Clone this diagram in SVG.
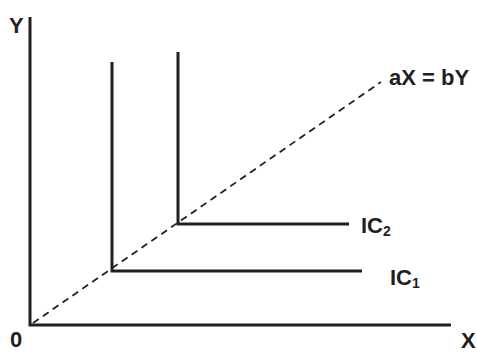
<svg xmlns="http://www.w3.org/2000/svg" width="477" height="352" viewBox="0 0 477 352">
<style>
.ax{stroke:#231f20;stroke-width:3;fill:none}
.ic{stroke:#231f20;stroke-width:3;fill:none}
.dash{stroke:#231f20;stroke-width:1.8;stroke-dasharray:7 5;fill:none}
text{font-family:"Liberation Sans",Arial,sans-serif;font-weight:bold;fill:#231f20;font-size:22px}
.sub{font-size:14px}
</style>
<rect width="477" height="352" fill="#fff"/>
<g id="axes">
<polyline class="ax" points="30,17 30,325 451,325"/>
<text x="9" y="33">Y</text>
<text x="10" y="347">0</text>
<text x="461" y="348">X</text>
</g>
<g id="connectors">
<line class="dash" x1="33" y1="323" x2="381" y2="82"/>
</g>
<g id="ray-label">
<text x="389" y="85">aX = bY</text>
</g>
<g id="IC1">
<polyline class="ic" points="112,62 112,271 362,271"/>
<text x="390" y="285">IC<tspan class="sub" dy="3">1</tspan></text>
</g>
<g id="IC2">
<polyline class="ic" points="178,52 178,224 349,224"/>
<text x="361" y="233">IC<tspan class="sub" dy="3">2</tspan></text>
</g>
</svg>
